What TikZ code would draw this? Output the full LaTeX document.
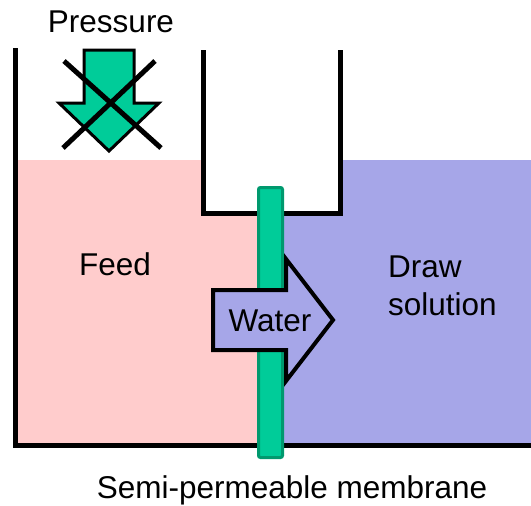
\documentclass[tikz,border=0pt]{standalone}
\usepackage{fontspec}
\setmainfont{Liberation Sans}
\definecolor{feedpink}{HTML}{FFCCCC}
\definecolor{drawblue}{HTML}{A6A6E8}
\definecolor{memgreen}{HTML}{00CC99}
\definecolor{memdark}{HTML}{00996E}
\tikzset{
  wall/.style={line width=5pt, black, line cap=rect},
  lbl/.style={font=\fontsize{31.5}{38}\selectfont, inner sep=0pt, align=center},
}
\begin{document}
\begin{tikzpicture}[x=1pt,y=-1pt]
\useasboundingbox (0,0) rectangle (531,506);
% liquids
\fill[feedpink] (15,160) -- (203,160) -- (203,213) -- (258,213) -- (258,445) -- (15,445) -- cycle;
\fill[drawblue] (282,213) -- (340,213) -- (340,160) -- (531,160) -- (531,445) -- (282,445) -- cycle;
% outer vessel
\draw[wall] (15,50) -- (15,445) -- (531,445);
% inner vessel
\draw[wall, line cap=butt] (203,50) -- (203,213) -- (340,213) -- (340,50);
% membrane
\draw[memdark, fill=memgreen, line width=3pt, rounded corners=2pt] (258.5,187.5) rectangle (282.5,457.5);
% pressure arrow
\draw[black, fill=memgreen, line width=3pt, line join=miter]
  (84,50) -- (134,50) -- (134,103) -- (159,103) -- (109,151) -- (59,103) -- (84,103) -- cycle;
\draw[black, line width=5pt] (64,61) -- (161,148);
\draw[black, line width=5pt] (155,61) -- (63,148);
% water arrow
\draw[black, fill=drawblue, line width=4pt, line join=miter]
  (213,290) -- (286,290) -- (286,259) -- (333,320) -- (286,381) -- (286,350) -- (213,350) -- cycle;
% texts
\node[lbl] (pressure) at (111,22) {Pressure};
\node[lbl] (feed) at (115,264) {Feed};
\node[lbl, align=left, anchor=west] (drawsol) at (388,286) {Draw\\solution};
\node[lbl] (water) at (270,321) {Water};
\node[lbl] (membrane) at (292,490) {Semi-permeable membrane};
\end{tikzpicture}
\end{document}
